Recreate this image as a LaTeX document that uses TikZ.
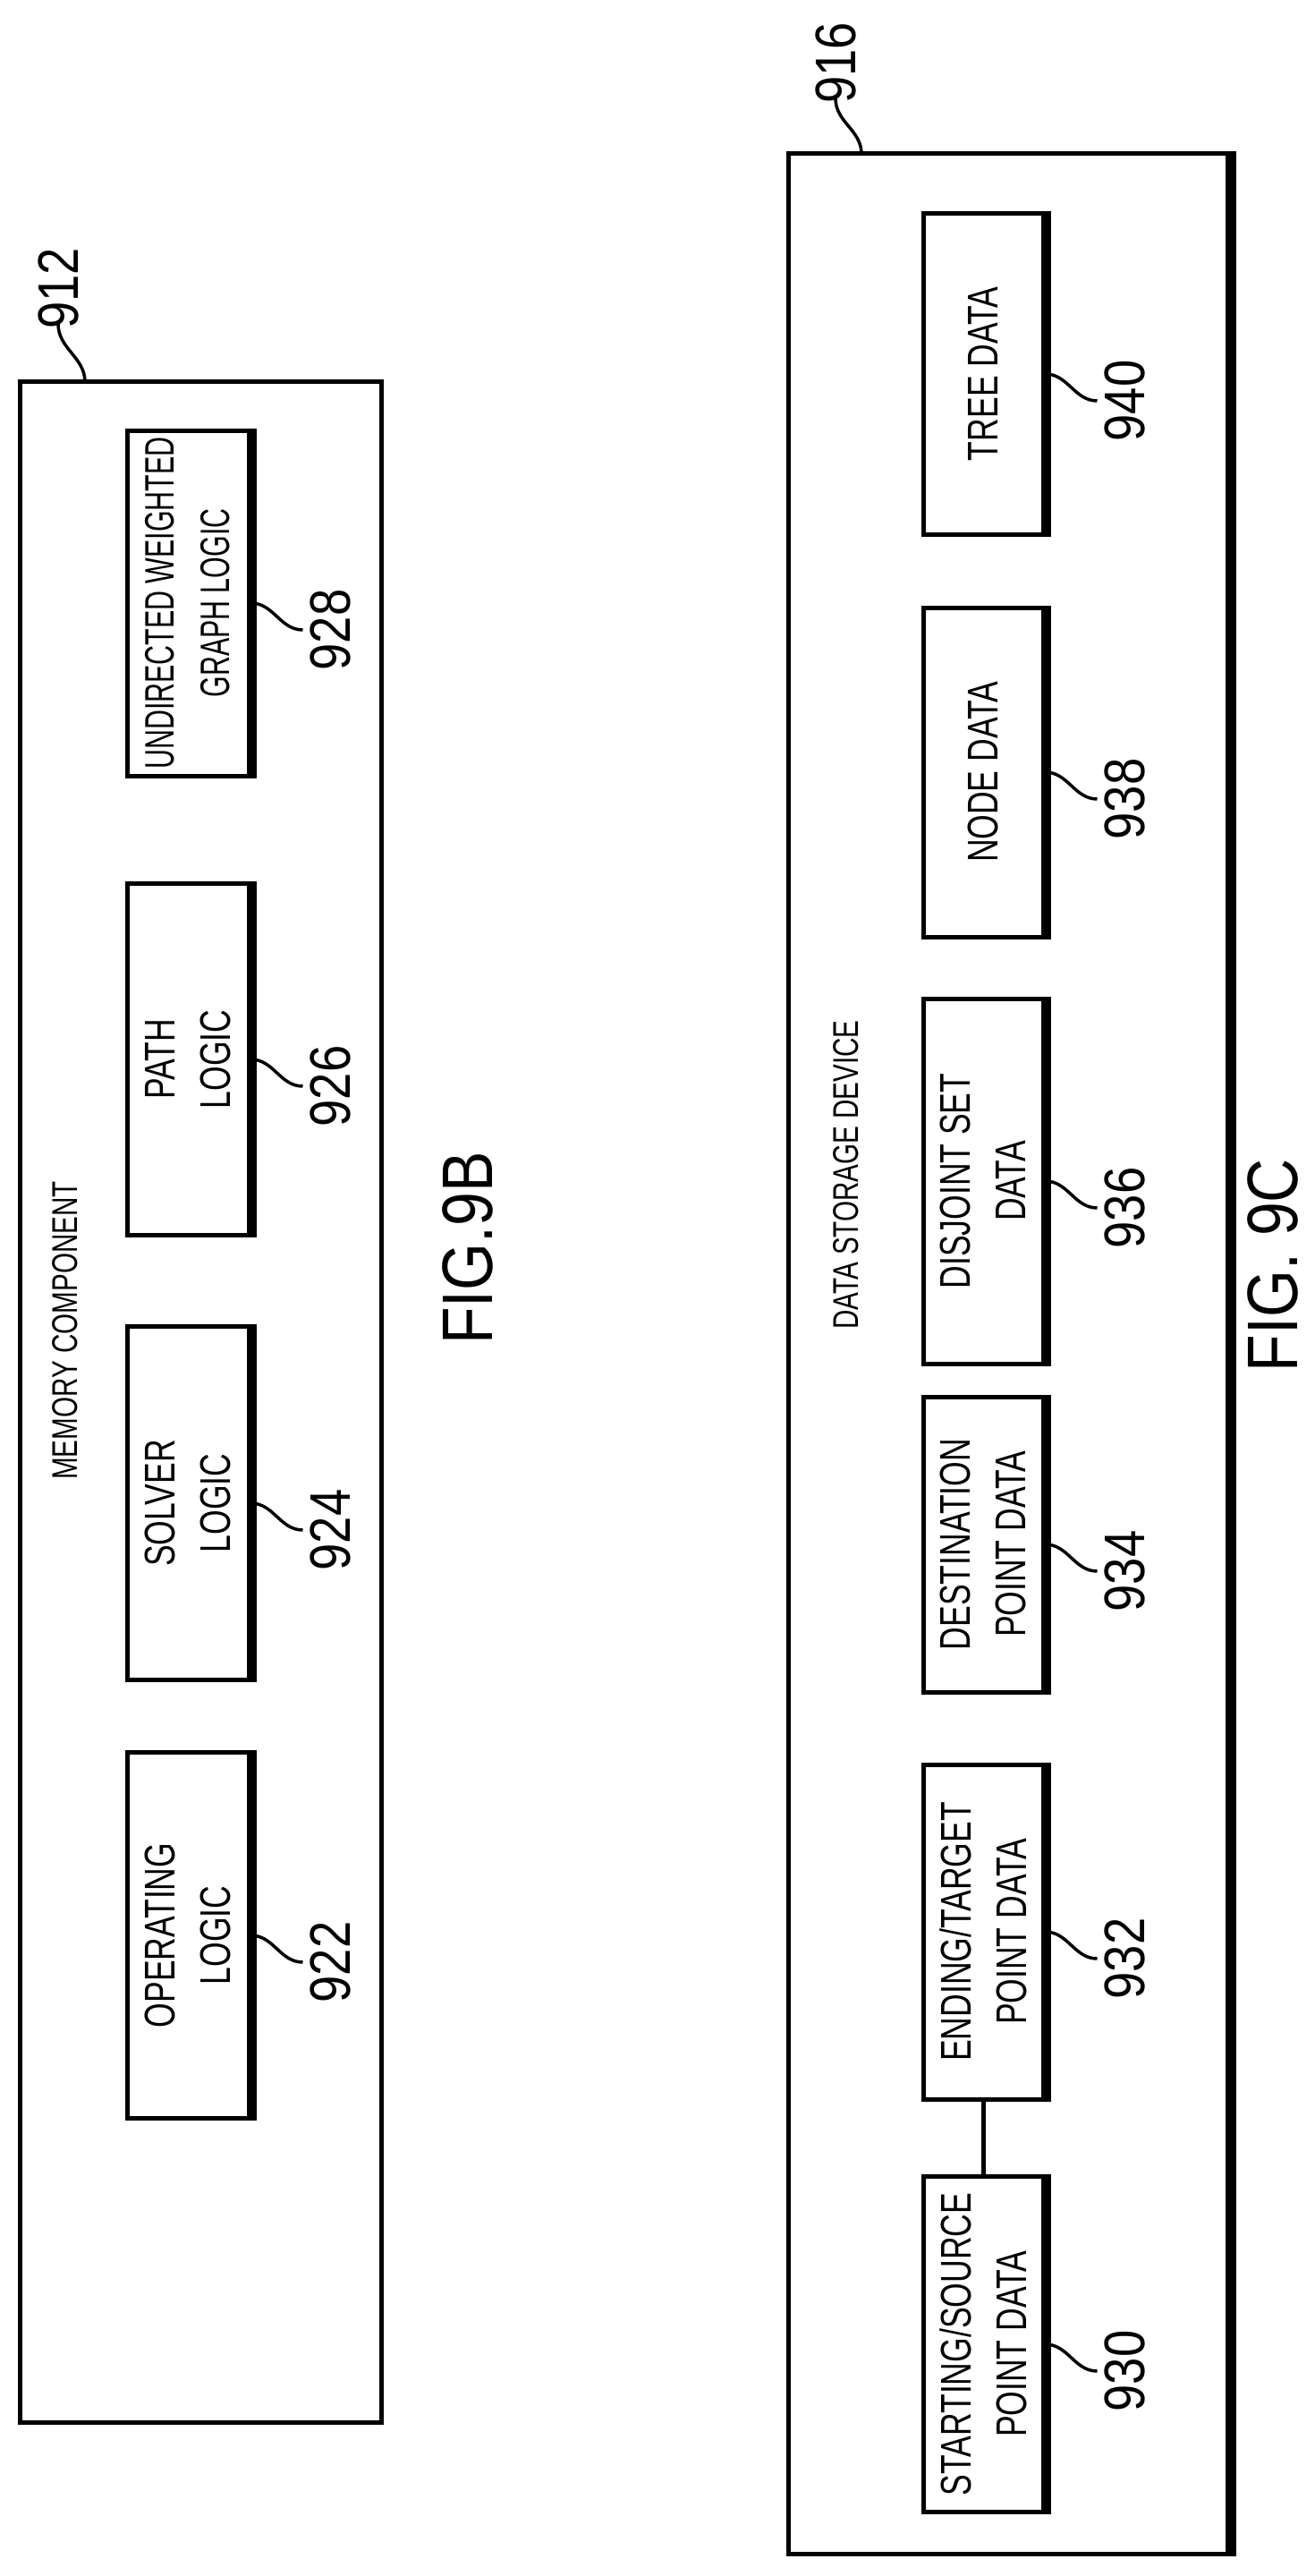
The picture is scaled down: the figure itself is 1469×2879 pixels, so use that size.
\documentclass[tikz,border=0pt]{standalone}
\usepackage{fontspec}
\newfontfamily\cond[FakeStretch=0.74]{Liberation Sans}
\newfontfamily\condx[FakeStretch=0.66]{Liberation Sans}
\newfontfamily\condn[FakeStretch=0.85]{Liberation Sans}
\begin{document}
\begin{tikzpicture}[x=1pt,y=-1pt,
  blk/.style={draw,line width=5pt,rotate=90,align=center,inner sep=0pt,
    font=\cond\fontsize{48}{62}\selectfont},
  num/.style={rotate=90,anchor=north,inner sep=2pt,font=\condn\fontsize{64}{64}\selectfont},
  lead/.style={line width=3.5pt},
  ttl/.style={rotate=90,inner sep=0pt,font=\cond\fontsize{40}{40}\selectfont},
  fig/.style={rotate=90,inner sep=0pt,font=\condn\fontsize{80}{80}\selectfont}]
\useasboundingbox (0,0) rectangle (1469,2879);
\newcommand{\blkbox}[8][]{%
  \node[blk,minimum width=#5,minimum height=#6,#1] (#2) at (#3,#4) {#7};
  \draw[line width=9pt] ([xshift=2pt]#2.south west) -- ([xshift=2pt]#2.south east);
  \draw[lead] (#2.south) to[out=0,in=180] ++(58,30) coordinate (#2e);
  \node[num] (#2n) at ([xshift=6pt]#2e) {#8};}
% FIG 9B
\node[draw,line width=5pt,minimum width=2281,minimum height=404,rotate=90,inner sep=0pt] (b912) at (224,1567) {};
\coordinate (t912) at (95,427);
\draw[lead] (t912) to[out=90,in=-90] (65,362) coordinate (c912);
\node[num,anchor=west] (n912) at ([yshift=-8pt]c912) {912};
\node[ttl] (mem) at (73,1487) {MEMORY COMPONENT};
\blkbox[font=\condx\fontsize{46}{62}\selectfont]{b928}{210}{674}{386}{136}{UNDIRECTED WEIGHTED\\GRAPH LOGIC}{928}
\blkbox{b926}{210}{1184}{393}{136}{PATH\\LOGIC}{926}
\blkbox{b924}{210}{1680}{395}{136}{SOLVER\\LOGIC}{924}
\blkbox{b922}{210}{2163}{409}{136}{OPERATING\\LOGIC}{922}
\node[fig] (f9b) at (523,1395) {FIG.9B};
% FIG 9C
\node[draw,line width=5pt,minimum width=2683,minimum height=491,rotate=90,inner sep=0pt] (b916) at (1127,1513) {};
\draw[line width=9pt] ([xshift=2pt]b916.south west) -- ([xshift=2pt]b916.south east);
\coordinate (t916) at (963,172);
\draw[lead] (t916) to[out=90,in=-90] (934,110) coordinate (c916);
\node[num,anchor=west] (n916) at ([yshift=-8pt]c916) {916};
\node[ttl] (dsd) at (946,1313) {DATA STORAGE DEVICE};
\blkbox{b940}{1099}{418}{358}{134}{TREE DATA}{940}
\blkbox{b938}{1099}{863}{368}{134}{NODE DATA}{938}
\blkbox{b936}{1099}{1320}{408}{134}{DISJOINT SET\\DATA}{936}
\blkbox{b934}{1099}{1726}{330}{134}{DESTINATION\\POINT DATA}{934}
\blkbox{b932}{1099}{2159}{374}{134}{ENDING/TARGET\\POINT DATA}{932}
\blkbox{b930}{1099}{2620}{375}{134}{STARTING/SOURCE\\POINT DATA}{930}
\draw[line width=5pt] (b930.east) -- (b932.west);
\node[fig] (f9c) at (1423,1414) {FIG. 9C};
\end{tikzpicture}
\end{document}
